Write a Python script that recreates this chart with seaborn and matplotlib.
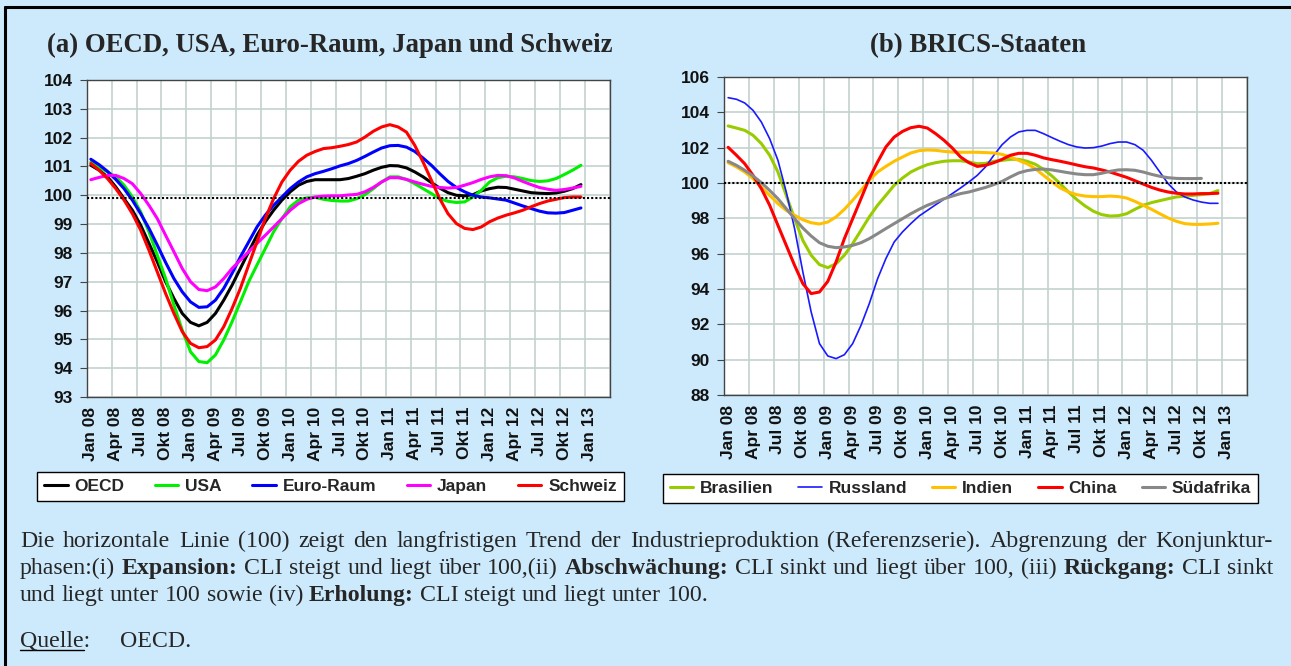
import numpy as np
import pandas as pd
import matplotlib
matplotlib.use('Agg')
import matplotlib.pyplot as plt
from matplotlib.lines import Line2D
import seaborn as sns

# Quartalsbeschriftung der Monatsachse (Monat 0 = Jan 08)
quartale = ['Jan 08', 'Apr 08', 'Jul 08', 'Okt 08', 'Jan 09', 'Apr 09', 'Jul 09', 'Okt 09',
            'Jan 10', 'Apr 10', 'Jul 10', 'Okt 10', 'Jan 11', 'Apr 11', 'Jul 11', 'Okt 11',
            'Jan 12', 'Apr 12', 'Jul 12', 'Okt 12', 'Jan 13']

# (a) CLI monatlich, Jan 08 - Dez 12
oecd = [101.04, 100.87, 100.64, 100.29, 99.88, 99.48, 98.96, 98.33, 97.69, 97.00,
        96.42, 95.90, 95.59, 95.47, 95.59, 95.90, 96.36, 96.88, 97.46, 98.04,
        98.61, 99.08, 99.48, 99.83, 100.12, 100.35, 100.48, 100.54, 100.54, 100.54,
        100.54, 100.58, 100.66, 100.75, 100.87, 100.97, 101.03, 101.02, 100.95, 100.81,
        100.64, 100.44, 100.25, 100.09, 100.00, 99.98, 100.02, 100.15, 100.23, 100.28,
        100.27, 100.21, 100.15, 100.09, 100.07, 100.06, 100.08, 100.14, 100.23, 100.37]
usa = [101.15, 100.98, 100.81, 100.64, 100.35, 99.94, 99.42, 98.73, 97.92, 97.11,
       96.19, 95.32, 94.57, 94.23, 94.19, 94.46, 94.98, 95.61, 96.30, 97.00,
       97.58, 98.15, 98.73, 99.19, 99.60, 99.83, 99.91, 99.93, 99.86, 99.82,
       99.80, 99.80, 99.88, 100.02, 100.23, 100.46, 100.64, 100.64, 100.55, 100.40,
       100.23, 100.06, 99.88, 99.79, 99.75, 99.77, 99.94, 100.17, 100.46, 100.61,
       100.66, 100.64, 100.58, 100.51, 100.48, 100.50, 100.58, 100.72, 100.87, 101.04]
euro_raum = [101.25, 101.06, 100.83, 100.55, 100.23, 99.83, 99.36, 98.85, 98.27, 97.67,
             97.11, 96.65, 96.30, 96.11, 96.13, 96.36, 96.77, 97.29, 97.86, 98.38,
             98.90, 99.31, 99.65, 99.94, 100.23, 100.46, 100.64, 100.75, 100.83, 100.92,
             101.02, 101.10, 101.21, 101.35, 101.50, 101.64, 101.72, 101.73, 101.67, 101.52,
             101.29, 101.04, 100.75, 100.48, 100.27, 100.12, 100.00, 99.94, 99.91, 99.87,
             99.83, 99.73, 99.63, 99.54, 99.45, 99.39, 99.38, 99.40, 99.48, 99.56]
japan = [100.54, 100.62, 100.69, 100.69, 100.58, 100.40, 100.06, 99.65, 99.19, 98.61,
         98.04, 97.46, 97.00, 96.73, 96.69, 96.82, 97.11, 97.46, 97.75, 98.04,
         98.33, 98.61, 98.90, 99.19, 99.48, 99.71, 99.86, 99.94, 99.97, 99.98,
         99.98, 100.01, 100.03, 100.12, 100.27, 100.46, 100.61, 100.61, 100.55, 100.46,
         100.38, 100.31, 100.27, 100.25, 100.27, 100.35, 100.44, 100.55, 100.64, 100.69,
         100.68, 100.60, 100.48, 100.37, 100.27, 100.21, 100.17, 100.20, 100.25, 100.31]
schweiz = [101.10, 100.87, 100.58, 100.23, 99.83, 99.36, 98.79, 98.09, 97.34, 96.59,
           95.90, 95.27, 94.86, 94.71, 94.75, 94.98, 95.44, 96.07, 96.77, 97.58,
           98.38, 99.19, 99.88, 100.46, 100.87, 101.18, 101.39, 101.52, 101.62, 101.65,
           101.70, 101.76, 101.85, 102.02, 102.22, 102.37, 102.45, 102.37, 102.19, 101.73,
           101.15, 100.52, 99.88, 99.36, 99.02, 98.85, 98.81, 98.90, 99.08, 99.21,
           99.31, 99.39, 99.48, 99.60, 99.71, 99.80, 99.86, 99.92, 99.94, 99.94]

# (b) BRICS-Staaten
brasilien = [103.23, 103.11, 102.98, 102.70, 102.23, 101.57, 100.62, 99.30, 97.98, 96.75,
             95.91, 95.38, 95.21, 95.43, 95.91, 96.57, 97.32, 98.08, 98.74, 99.30,
             99.87, 100.28, 100.62, 100.85, 101.04, 101.15, 101.23, 101.26, 101.26, 101.19,
             101.09, 101.11, 101.23, 101.28, 101.34, 101.34, 101.23, 101.06, 100.77, 100.40,
             99.96, 99.49, 99.06, 98.70, 98.40, 98.21, 98.13, 98.15, 98.26, 98.51,
             98.74, 98.89, 99.00, 99.11, 99.21, 99.26, 99.30, 99.34, 99.40, 99.57]
russland = [104.83, 104.74, 104.53, 104.11, 103.45, 102.51, 101.28, 99.49, 97.42, 94.96,
            92.70, 90.91, 90.21, 90.06, 90.28, 90.91, 91.94, 93.17, 94.58, 95.72,
            96.66, 97.23, 97.70, 98.13, 98.45, 98.77, 99.08, 99.40, 99.72, 100.06,
            100.43, 100.91, 101.57, 102.17, 102.60, 102.89, 102.98, 102.98, 102.79, 102.57,
            102.36, 102.17, 102.04, 101.98, 102.00, 102.09, 102.23, 102.32, 102.32, 102.17,
            101.85, 101.28, 100.62, 99.96, 99.49, 99.21, 99.04, 98.92, 98.85, 98.85]
indien = [101.15, 100.91, 100.62, 100.25, 99.77, 99.30, 98.83, 98.45, 98.17, 97.92,
          97.75, 97.68, 97.79, 98.08, 98.51, 99.02, 99.58, 100.15, 100.62, 100.94,
          101.23, 101.47, 101.70, 101.83, 101.87, 101.85, 101.79, 101.75, 101.74, 101.74,
          101.74, 101.72, 101.70, 101.62, 101.47, 101.28, 101.09, 100.81, 100.43, 100.06,
          99.72, 99.49, 99.34, 99.26, 99.23, 99.23, 99.26, 99.23, 99.15, 98.96,
          98.74, 98.51, 98.26, 98.02, 97.83, 97.70, 97.66, 97.66, 97.68, 97.72]
china = [102.02, 101.57, 101.09, 100.43, 99.68, 98.74, 97.60, 96.47, 95.34, 94.30,
         93.74, 93.83, 94.43, 95.53, 96.85, 97.98, 99.11, 100.25, 101.19, 102.04,
         102.60, 102.92, 103.13, 103.21, 103.11, 102.79, 102.42, 101.98, 101.47, 101.15,
         100.94, 101.00, 101.15, 101.34, 101.57, 101.68, 101.68, 101.57, 101.42, 101.32,
         101.23, 101.13, 101.02, 100.92, 100.85, 100.74, 100.62, 100.47, 100.32, 100.13,
         99.94, 99.75, 99.60, 99.49, 99.42, 99.38, 99.38, 99.40, 99.40, 99.42]
suedafrika = [101.23, 101.00, 100.72, 100.40, 100.02, 99.58, 99.11, 98.55, 97.98, 97.45,
              97.00, 96.62, 96.42, 96.34, 96.38, 96.47, 96.62, 96.85, 97.13, 97.42,
              97.70, 97.98, 98.26, 98.51, 98.74, 98.92, 99.11, 99.26, 99.40, 99.49,
              99.62, 99.75, 99.91, 100.09, 100.34, 100.57, 100.70, 100.77, 100.79, 100.74,
              100.66, 100.58, 100.51, 100.47, 100.47, 100.55, 100.66, 100.74, 100.75, 100.72,
              100.62, 100.49, 100.38, 100.30, 100.26, 100.25, 100.25, 100.26]

# Trendlinien (Referenz 100), links leicht unter 100 eingezeichnet
trend_a = 99.92
trend_b = 100.0

serien_a = {'OECD': oecd, 'USA': usa, 'Euro-Raum': euro_raum, 'Japan': japan, 'Schweiz': schweiz}
serien_b = {'Brasilien': brasilien, 'Russland': russland, 'Indien': indien,
            'China': china, 'Südafrika': suedafrika}
farben_a = {'OECD': '#000000', 'USA': '#00f000', 'Euro-Raum': '#0000ff',
            'Japan': '#ff00ff', 'Schweiz': '#ff0000'}
farben_b = {'Brasilien': '#99cc00', 'Russland': '#1a1aff', 'Indien': '#ffc000',
            'China': '#ff0000', 'Südafrika': '#888888'}
breiten_a = {k: 2.2 for k in serien_a}
breiten_b = {'Brasilien': 2.2, 'Russland': 1.2, 'Indien': 2.2, 'China': 2.2, 'Südafrika': 2.2}

bg = '#cdeafc'
grid_c = '#c3d2cf'
spine_c = '#444444'
W, H = 1291, 666

sns.set_style('white')
plt.rcParams['font.family'] = ['Liberation Sans', 'DejaVu Sans']


def fx(px):
    return px / W


def fy(py):
    return 1 - py / H


def lang(serien):
    return pd.concat([pd.DataFrame({'Monat': np.arange(len(v)), 'CLI': v, 'Land': k})
                      for k, v in serien.items()], ignore_index=True)


fig = plt.figure(figsize=(W / 100, H / 100), dpi=100, facecolor=bg)

ax_a = fig.add_axes([fx(86.7), fy(397), (610 - 86.7) / W, (397 - 80) / H])
ax_b = fig.add_axes([fx(724), fy(395), (1247 - 724) / W, (395 - 77) / H])


def gestalte(ax, ymin, ymax, step):
    ax.set_facecolor('white')
    ax.set_xlim(-0.5, 62.5)
    ax.set_ylim(ymin, ymax)
    ax.set_yticks(np.arange(ymin, ymax + step / 2, step))
    ax.set_xticks(np.arange(0, 61, 3))
    ax.set_xticklabels(quartale, rotation=90)
    ax.set_xticks(np.arange(-0.5, 63, 3), minor=True)
    ax.grid(True, axis='y', color=grid_c, lw=1.2)
    ax.grid(True, axis='x', which='minor', color=grid_c, lw=1.2)
    ax.grid(False, axis='x', which='major')
    ax.set_axisbelow(True)
    ax.tick_params(axis='x', which='major', length=0, pad=7)
    ax.tick_params(axis='x', which='minor', length=5, color=spine_c, direction='out')
    ax.tick_params(axis='y', length=5, pad=5, color=spine_c, direction='out', left=True)
    for lab in ax.get_xticklabels() + ax.get_yticklabels():
        lab.set_fontweight('bold')
        lab.set_fontsize(12.5)
        lab.set_color('#111111')
    for s in ax.spines.values():
        s.set_color(spine_c)
        s.set_linewidth(1)
    ax.set_xlabel('')
    ax.set_ylabel('')


for ax, serien, farben, breiten, trend, (ymin, ymax, step) in [
        (ax_a, serien_a, farben_a, breiten_a, trend_a, (93, 104, 1)),
        (ax_b, serien_b, farben_b, breiten_b, trend_b, (88, 106, 2))]:
    sns.lineplot(data=lang(serien), x='Monat', y='CLI', hue='Land', palette=farben,
                 size='Land', sizes=breiten, estimator=None, legend=False, ax=ax)
    ax.axhline(trend, color='black', lw=1.5, ls=(0, (1, 1)), zorder=5)
    gestalte(ax, ymin, ymax, step)

# Legenden
leg_font = dict(family='Liberation Sans', weight='bold', size=12.5)
for ax, serien, farben, breiten, (cx, cy), spalt in [
        (ax_a, serien_a, farben_a, breiten_a, (330.5, 486.5), 1.75),
        (ax_b, serien_b, farben_b, breiten_b, (960.5, 488.5), 1.42)]:
    handles = [Line2D([], [], color=farben[k], lw=breiten[k]) for k in serien]
    leg = ax.legend(handles, list(serien), loc='center', ncol=5,
                    bbox_to_anchor=(fx(cx), fy(cy)), bbox_transform=fig.transFigure,
                    frameon=True, fancybox=False, edgecolor='black', framealpha=1,
                    prop=leg_font, handlelength=1.35, handletextpad=0.4,
                    columnspacing=spalt, borderpad=0.42)
    leg.get_frame().set_linewidth(1)

# Titel
serif = ['Liberation Serif', 'DejaVu Serif']
fig.text(fx(330), fy(52), '(a) OECD, USA, Euro-Raum, Japan und Schweiz', ha='center',
         va='baseline', family=serif, weight='bold', fontsize=19.3)
fig.text(fx(978), fy(52), '(b) BRICS-Staaten', ha='center', va='baseline',
         family=serif, weight='bold', fontsize=19.3)

# Rahmen oben und links
fig.add_artist(Line2D([fx(5), 1], [fy(7), fy(7)], transform=fig.transFigure, color='black', lw=2.2))
fig.add_artist(Line2D([fx(5), fx(5)], [fy(7), 0], transform=fig.transFigure, color='black', lw=2.2))

# Erläuterungstext (Blocksatz), fette Begriffe in ** **
zeilen = [
    ('Die horizontale Linie (100) zeigt den langfristigen Trend der Industrieproduktion '
     '(Referenzserie). Abgrenzung der Konjunktur-', True),
    ('phasen:(i) **Expansion:** CLI steigt und liegt über 100,(ii) **Abschwächung:** CLI sinkt '
     'und liegt über 100, (iii) **Rückgang:** CLI sinkt', True),
    ('und liegt unter 100 sowie (iv) **Erholung:** CLI steigt und liegt unter 100.', False),
]
text_size = 17.2
renderer = fig.canvas.get_renderer()


def breite(t, w):
    tx = fig.text(0, 0, t, family=serif, weight=w, fontsize=text_size)
    b = tx.get_window_extent(renderer).width
    tx.remove()
    return b


leer = breite('a a', 'normal') - breite('aa', 'normal')
x_links, x_rechts = 20, 1273
for n, (zeile, block) in enumerate(zeilen):
    woerter = []
    for wort in zeile.split(' '):
        segs = [(t, 'bold' if k % 2 else 'normal') for k, t in enumerate(wort.split('**')) if t]
        woerter.append([(t, w, breite(t, w)) for t, w in segs])
    gesamt = sum(b for wort in woerter for _, _, b in wort)
    luecke = (x_rechts - x_links - gesamt) / (len(woerter) - 1) if block else leer
    x = x_links
    y = 547 + 27 * n
    for wort in woerter:
        for t, w, b in wort:
            fig.text(fx(x), fy(y), t, ha='left', va='baseline', family=serif,
                     weight=w, fontsize=text_size)
            x += b
        x += luecke

# Quelle
qb = breite('Quelle', 'normal')
fig.text(fx(20), fy(647), 'Quelle:', ha='left', va='baseline', family=serif, fontsize=text_size)
fig.add_artist(Line2D([fx(20), fx(20 + qb)], [fy(650), fy(650)], transform=fig.transFigure,
                      color='black', lw=1))
fig.text(fx(120), fy(647), 'OECD.', ha='left', va='baseline', family=serif, fontsize=text_size)

fig.savefig('out.png', dpi=100, facecolor=bg)
